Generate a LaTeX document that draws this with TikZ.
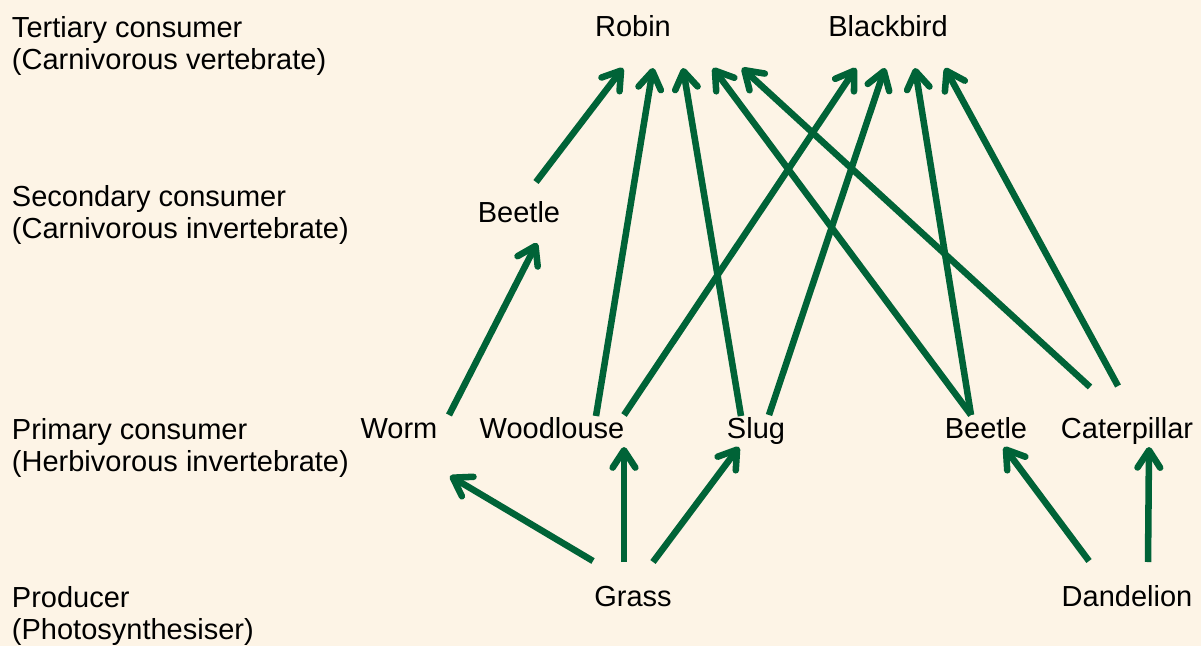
\documentclass[tikz,border=0pt]{standalone}
\usepackage{fontspec}
\setmainfont{Liberation Sans}
\usetikzlibrary{arrows.meta,calc}
\definecolor{bgcol}{RGB}{253,244,230}
\definecolor{arrcol}{RGB}{0,99,55}
\begin{document}
\begin{tikzpicture}[x=0.75pt,y=-0.75pt,
  every node/.style={inner sep=0pt,outer sep=0pt,font=\fontsize{21.75pt}{24pt}\selectfont},
  org/.style={anchor=base},
  level/.style={anchor=base west,align=left},
  feed/.style={draw=arrcol,line width=4.9pt,
    -{Straight Barb[length=13pt,width=17pt,line cap=round,line join=round]}}]
\fill[bgcol] (0,0) rectangle (1201,646);
\useasboundingbox (0,0) rectangle (1201,646);
% level labels (anchored at the baseline of the second line)
\node[level] (l1) at (12,69) {Tertiary consumer\\(Carnivorous vertebrate)};
\node[level] (l2) at (12,238.5) {Secondary consumer\\(Carnivorous invertebrate)};
\node[level] (l3) at (12,471) {Primary consumer\\(Herbivorous invertebrate)};
\node[level] (l4) at (12,639) {Producer\\(Photosynthesiser)};
% organisms
\node[org] (robin) at (633,36.5) {Robin};
\node[org] (blackbird) at (888,36.5) {Blackbird};
\node[org] (beetleB) at (519,222) {Beetle};
\node[org] (worm) at (399,438) {Worm};
\node[org] (wood) at (552,438) {Woodlouse};
\node[org] (slug) at (756,438) {Slug};
\node[org] (beetleA) at (986,438) {Beetle};
\node[org] (cat) at (1127,438) {Caterpillar};
\node[org] (grass) at (633,606) {Grass};
\node[org] (dand) at (1127,606) {Dandelion};
% to Robin
\draw[feed] ($(beetleB.base)+(17,-40)$) -- ($(robin.base)+(-10,31.5)$);
\draw[feed] ($(wood.base)+(44,-22)$) -- ($(robin.base)+(20,31.5)$);
\draw[feed] ($(slug.base)+(-15,-22)$) -- ($(robin.base)+(50,31.5)$);
\draw[feed] ($(beetleA.base)+(-15,-23)$) -- ($(robin.base)+(80,31.5)$);
\draw[feed] ($(cat.base)+(-37,-51)$) -- ($(robin.base)+(109,31.5)$);
% to Blackbird
\draw[feed] ($(wood.base)+(72,-23)$) -- ($(blackbird.base)+(-32,31.5)$);
\draw[feed] ($(slug.base)+(13,-23)$) -- ($(blackbird.base)+(-3,31.5)$);
\draw[feed] ($(beetleA.base)+(-15,-23)$) -- ($(blackbird.base)+(27,31.5)$);
\draw[feed] ($(cat.base)+(-9,-52)$) -- ($(blackbird.base)+(57,31.5)$);
% to secondary beetle
\draw[feed] ($(worm.base)+(50,-23)$) -- ($(beetleB.base)+(18,21)$);
% from producers
\draw[feed] ($(grass.base)+(-40,-45)$) -- ($(worm.base)+(51,38)$);
\draw[feed] ($(grass.base)+(-9,-44)$) -- ($(wood.base)+(72,9)$);
\draw[feed] ($(grass.base)+(20,-44)$) -- ($(slug.base)+(-17,9)$);
\draw[feed] ($(dand.base)+(-38,-45)$) -- ($(beetleA.base)+(18,9)$);
\draw[feed] ($(dand.base)+(21,-44)$) -- ($(cat.base)+(22,9)$);
\end{tikzpicture}
\end{document}
